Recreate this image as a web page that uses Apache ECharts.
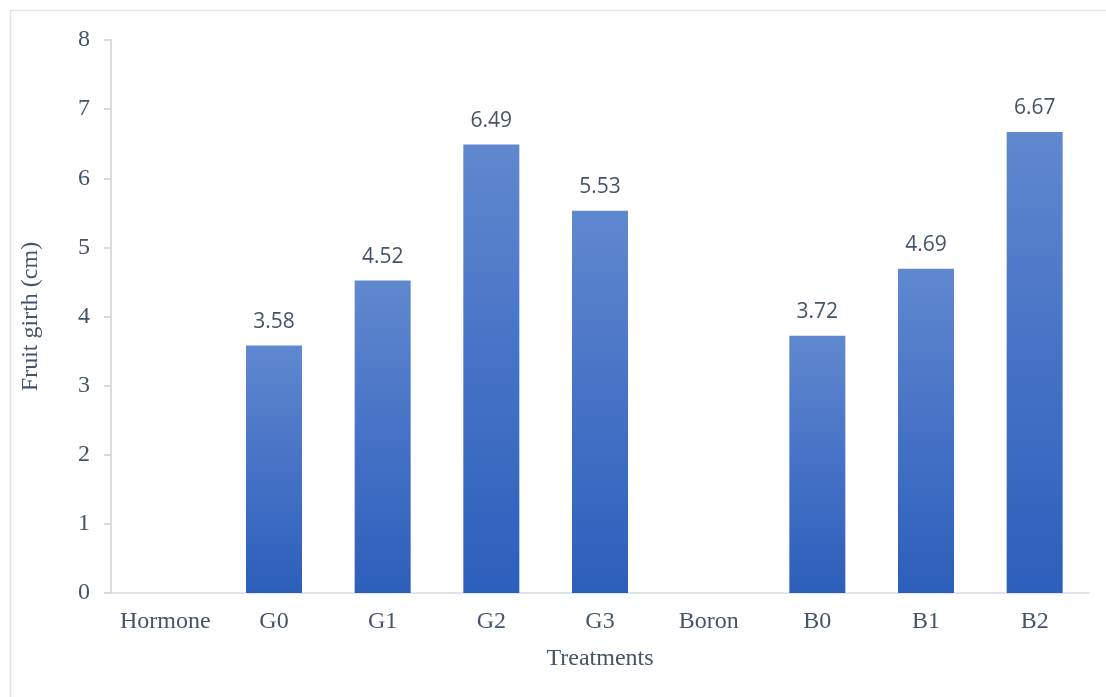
<!DOCTYPE html>
<html>
<head>
<meta charset="utf-8">
<script src="https://cdn.jsdelivr.net/npm/echarts@6/dist/echarts.min.js"></script>
<style>
  html, body { margin: 0; padding: 0; background: #fff; }
  #chart { width: 1106px; height: 697px; }
</style>
</head>
<body>
<div id="chart"></div>
<script>
// Treatment groups on the category axis (group headers carry no bar)
const categories = ['Hormone', 'G0', 'G1', 'G2', 'G3', 'Boron', 'B0', 'B1', 'B2'];
// Mean fruit girth (cm) per treatment
const girthValues = [null, 3.58, 4.52, 6.49, 5.53, null, 3.72, 4.69, 6.67];
const yTicks = [0, 1, 2, 3, 4, 5, 6, 7, 8];

const textColor = '#44546a';
const serif = '"Liberation Serif", "Times New Roman", serif';

const chart = echarts.init(document.getElementById('chart'));
chart.setOption({
  animation: false,
  backgroundColor: '#ffffff',
  graphic: [{
    type: 'rect',
    shape: { x: 10.5, y: 10.5, width: 1200, height: 800 },
    style: { fill: 'none', stroke: '#dfe3ea', lineWidth: 1.5 },
    silent: true
  }],
  grid: { left: 111, right: 17, top: 40, bottom: 104 },
  xAxis: {
    type: 'category',
    data: categories,
    name: 'Treatments',
    nameLocation: 'middle',
    nameGap: 54,
    nameTextStyle: { fontFamily: serif, fontSize: 24, color: textColor },
    axisLine: { lineStyle: { color: '#d6dce5', width: 1.5 } },
    axisTick: { show: false },
    axisLabel: { fontFamily: serif, fontSize: 24, color: textColor, margin: 17, interval: 0 }
  },
  yAxis: {
    type: 'value',
    min: yTicks[0],
    max: yTicks[yTicks.length - 1],
    interval: 1,
    name: 'Fruit girth (cm)',
    nameLocation: 'middle',
    nameGap: 68,
    nameRotate: 90,
    nameTextStyle: { fontFamily: serif, fontSize: 24, color: textColor },
    axisLine: { show: true, lineStyle: { color: '#d0d0d0', width: 1.5 } },
    axisTick: { show: true, length: 7, lineStyle: { color: '#d0d0d0', width: 1.5 } },
    splitLine: { show: false },
    axisLabel: { fontFamily: serif, fontSize: 24, color: textColor, margin: 21 }
  },
  series: [{
    type: 'bar',
    data: girthValues,
    barWidth: 56,
    itemStyle: {
      color: new echarts.graphic.LinearGradient(0, 0, 0, 1, [
        { offset: 0, color: '#6088cf' },
        { offset: 0.5, color: '#4572c6' },
        { offset: 1, color: '#2c5fbb' }
      ])
    },
    label: {
      show: true,
      position: 'top',
      distance: 13,
      fontFamily: '"Open Sans", sans-serif',
      fontSize: 21,
      color: textColor,
      formatter: p => p.value.toFixed(2)
    }
  }]
});
</script>
</body>
</html>
